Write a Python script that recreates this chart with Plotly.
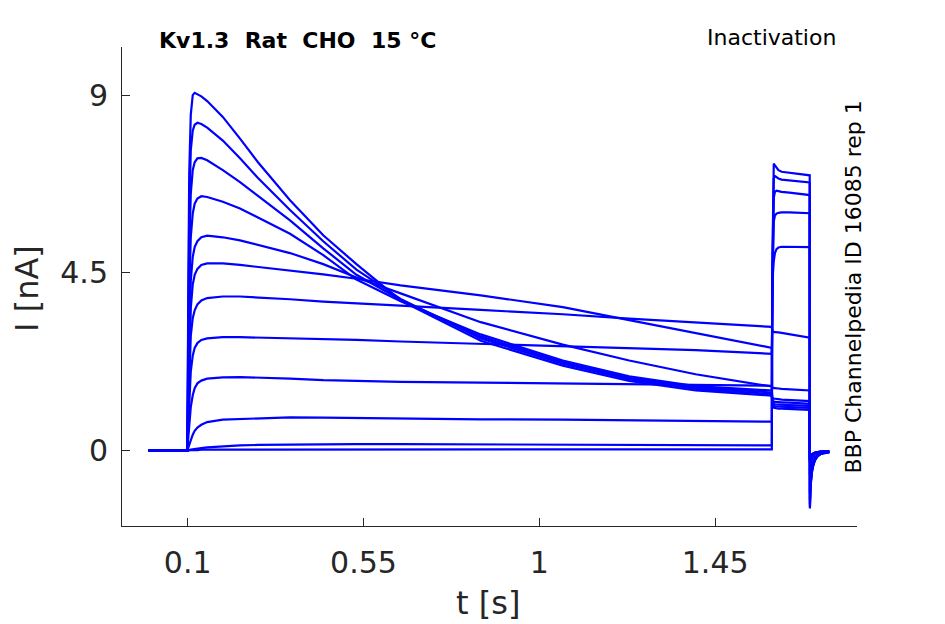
import plotly.graph_objects as go

# ---- time knots (s) ----
t_pre = [0.0, 0.0995, 0.101, 0.104, 0.108, 0.113, 0.118, 0.125, 0.135, 0.15, 0.19,
         0.234, 0.28, 0.362, 0.447, 0.532, 0.645, 0.85, 1.06, 1.23, 1.40, 1.595]
t_test = [1.596, 1.598, 1.600, 1.603, 1.607, 1.612, 1.62, 1.64, 1.665, 1.692]
t_tail = [1.6925, 1.694, 1.697, 1.700, 1.705, 1.712, 1.72, 1.73, 1.742]

# ---- currents (nA), one row per sweep ----
pre_nA = [
    [0, 0, 3.0, 7.0, 8.5, 9.0, 9.06, 9.02, 8.97, 8.85, 8.45, 7.9, 7.3, 6.34, 5.45, 4.72, 3.80, 2.78, 2.15, 1.76, 1.52, 1.39],
    [0, 0, 2.5, 6.0, 7.6, 8.1, 8.25, 8.30, 8.27, 8.18, 7.85, 7.4, 6.9, 6.09, 5.3, 4.58, 3.84, 2.84, 2.2, 1.80, 1.56, 1.43],
    [0, 0, 2.0, 5.0, 6.5, 7.1, 7.3, 7.4, 7.41, 7.35, 7.1, 6.8, 6.45, 5.83, 5.12, 4.45, 3.82, 2.89, 2.24, 1.84, 1.60, 1.47],
    [0, 0, 1.6, 4.0, 5.4, 6.0, 6.25, 6.38, 6.44, 6.42, 6.3, 6.13, 5.9, 5.49, 4.95, 4.33, 3.78, 2.94, 2.28, 1.88, 1.63, 1.52],
    [0, 0, 1.2, 3.0, 4.3, 4.9, 5.15, 5.3, 5.4, 5.44, 5.4, 5.32, 5.2, 5.0, 4.72, 4.38, 3.98, 3.25, 2.68, 2.28, 1.93, 1.62],
    [0, 0, 1.0, 2.5, 3.6, 4.2, 4.45, 4.6, 4.7, 4.74, 4.74, 4.70, 4.65, 4.57, 4.46, 4.35, 4.18, 3.93, 3.63, 3.3, 2.97, 2.60],
    [0, 0, 0.8, 2.0, 2.9, 3.35, 3.55, 3.7, 3.8, 3.86, 3.9, 3.9, 3.88, 3.83, 3.77, 3.73, 3.67, 3.56, 3.45, 3.34, 3.24, 3.13],
    [0, 0, 0.5, 1.3, 2.0, 2.4, 2.6, 2.72, 2.8, 2.84, 2.87, 2.87, 2.86, 2.85, 2.83, 2.8, 2.76, 2.7, 2.65, 2.6, 2.54, 2.45],
    [0, 0, 0.25, 0.7, 1.1, 1.4, 1.58, 1.7, 1.77, 1.82, 1.85, 1.86, 1.85, 1.82, 1.78, 1.76, 1.74, 1.72, 1.70, 1.68, 1.66, 1.64],
    [0, 0, 0.05, 0.15, 0.28, 0.4, 0.5, 0.58, 0.65, 0.72, 0.78, 0.80, 0.82, 0.84, 0.83, 0.82, 0.81, 0.79, 0.78, 0.76, 0.74, 0.73],
    [0, 0, 0.0, 0.01, 0.02, 0.03, 0.04, 0.05, 0.06, 0.08, 0.11, 0.13, 0.14, 0.15, 0.16, 0.16, 0.16, 0.15, 0.15, 0.14, 0.14, 0.13],
    [0, 0, 0.0, 0.0, 0.01, 0.01, 0.01, 0.01, 0.02, 0.02, 0.02, 0.03, 0.03, 0.03, 0.03, 0.03, 0.03, 0.03, 0.03, 0.03, 0.03, 0.03],
]
test_nA = [
    [1.15, 1.10, 1.08, 1.07, 1.07, 1.06, 1.06, 1.05, 1.04, 1.03],
    [1.20, 1.15, 1.13, 1.12, 1.12, 1.11, 1.11, 1.10, 1.09, 1.08],
    [1.25, 1.20, 1.18, 1.17, 1.17, 1.16, 1.16, 1.15, 1.14, 1.13],
    [1.30, 1.26, 1.24, 1.23, 1.23, 1.22, 1.22, 1.21, 1.20, 1.18],
    [1.35, 1.32, 1.31, 1.31, 1.30, 1.30, 1.29, 1.28, 1.27, 1.25],
    [1.60, 1.58, 1.58, 1.58, 1.57, 1.57, 1.56, 1.55, 1.54, 1.52],
    [3.05, 3.00, 3.00, 3.00, 3.00, 2.99, 2.98, 2.95, 2.91, 2.86],
    [3.5, 4.5, 4.8, 5.0, 5.1, 5.14, 5.16, 5.16, 5.16, 5.15],
    [3.8, 5.4, 5.8, 5.95, 6.0, 6.02, 6.03, 6.03, 6.02, 6.01],
    [4.0, 6.0, 6.4, 6.55, 6.58, 6.57, 6.55, 6.53, 6.50, 6.47],
    [4.2, 6.6, 6.9, 6.95, 6.92, 6.89, 6.86, 6.84, 6.82, 6.79],
    [4.4, 7.0, 7.27, 7.22, 7.15, 7.10, 7.06, 7.03, 7.00, 6.97],
]
tail_nA = [
    [-0.22, -0.15, -0.10, -0.08, -0.06, -0.04, -0.03, -0.03, -0.02],
    [-0.23, -0.15, -0.11, -0.08, -0.06, -0.04, -0.03, -0.03, -0.02],
    [-0.24, -0.16, -0.11, -0.08, -0.06, -0.04, -0.03, -0.03, -0.02],
    [-0.25, -0.17, -0.12, -0.09, -0.06, -0.04, -0.03, -0.03, -0.02],
    [-0.26, -0.17, -0.12, -0.09, -0.06, -0.04, -0.03, -0.03, -0.02],
    [-0.32, -0.21, -0.14, -0.10, -0.07, -0.05, -0.04, -0.03, -0.02],
    [-0.62, -0.40, -0.26, -0.18, -0.11, -0.07, -0.05, -0.04, -0.03],
    [-1.08, -0.70, -0.45, -0.31, -0.19, -0.11, -0.07, -0.05, -0.03],
    [-1.26, -0.81, -0.52, -0.36, -0.22, -0.13, -0.08, -0.05, -0.04],
    [-1.36, -0.88, -0.56, -0.39, -0.24, -0.14, -0.08, -0.05, -0.04],
    [-1.43, -0.92, -0.58, -0.41, -0.25, -0.14, -0.09, -0.06, -0.04],
    [-1.47, -0.95, -0.60, -0.42, -0.26, -0.15, -0.09, -0.06, -0.04],
]

x_tickvals = [0.1, 0.55, 1.0, 1.45]
x_ticktext = ["0.1", "0.55", "1", "1.45"]
y_tickvals = [0, 4.5, 9]
y_ticktext = ["0", "4.5", "9"]

title_text = "Kv1.3  Rat  CHO  15 °C"
protocol_text = "Inactivation"
source_text = "BBP Channelpedia ID 16085 rep 1"

FONT = "DejaVu Sans"
AX = "#262626"

fig = go.Figure()
t_all = t_pre + t_test + t_tail
for pre, test, tail in zip(pre_nA, test_nA, tail_nA):
    fig.add_trace(go.Scatter(
        x=t_all, y=pre + test + tail, mode="lines",
        line=dict(color="#0000FF", width=2.2),
        showlegend=False, hoverinfo="skip"))

# page body has an 8px margin, so the figure is drawn 8px in from the window edge
fig.update_layout(
    width=937, height=616,
    margin=dict(l=114, r=88, t=39, b=98),
    paper_bgcolor="white", plot_bgcolor="white",
    font=dict(family=FONT, color=AX),
)
fig.update_xaxes(
    range=[-0.068, 1.813], tickvals=x_tickvals, ticktext=x_ticktext,
    showgrid=False, zeroline=False, showline=True, linecolor=AX, linewidth=1,
    ticks="inside", ticklen=8, tickcolor=AX, tickwidth=1,
    tickfont=dict(size=30, family=FONT, color=AX), ticklabelstandoff=10)
fig.update_yaxes(
    range=[-1.913, 10.22], tickvals=y_tickvals, ticktext=y_ticktext,
    showgrid=False, zeroline=False, showline=True, linecolor=AX, linewidth=1,
    ticks="inside", ticklen=8, tickcolor=AX, tickwidth=1,
    tickfont=dict(size=30, family=FONT, color=AX), ticklabelstandoff=7)

ann = [
    dict(text="t [s]", x=0.498, y=-0.1608, xanchor="center", yanchor="middle",
         font=dict(size=32, family=FONT, color=AX)),
    dict(text="I [nA]", x=-0.1293, y=0.497, xanchor="center", yanchor="middle",
         textangle=-90, font=dict(size=32, family=FONT, color=AX)),
    dict(text="<b>" + title_text + "</b>", x=0.048, y=1.0146, xanchor="left", yanchor="middle",
         font=dict(size=22, family=FONT, color="black")),
    dict(text=protocol_text, x=0.974, y=1.0188, xanchor="right", yanchor="middle",
         font=dict(size=22, family=FONT, color="black")),
    dict(text=source_text, x=0.9946, y=0.498, xanchor="center", yanchor="middle",
         textangle=-90, font=dict(size=22, family=FONT, color="black")),
]
for a in ann:
    fig.add_annotation(xref="paper", yref="paper", showarrow=False, **a)

fig.write_html("out.html")
